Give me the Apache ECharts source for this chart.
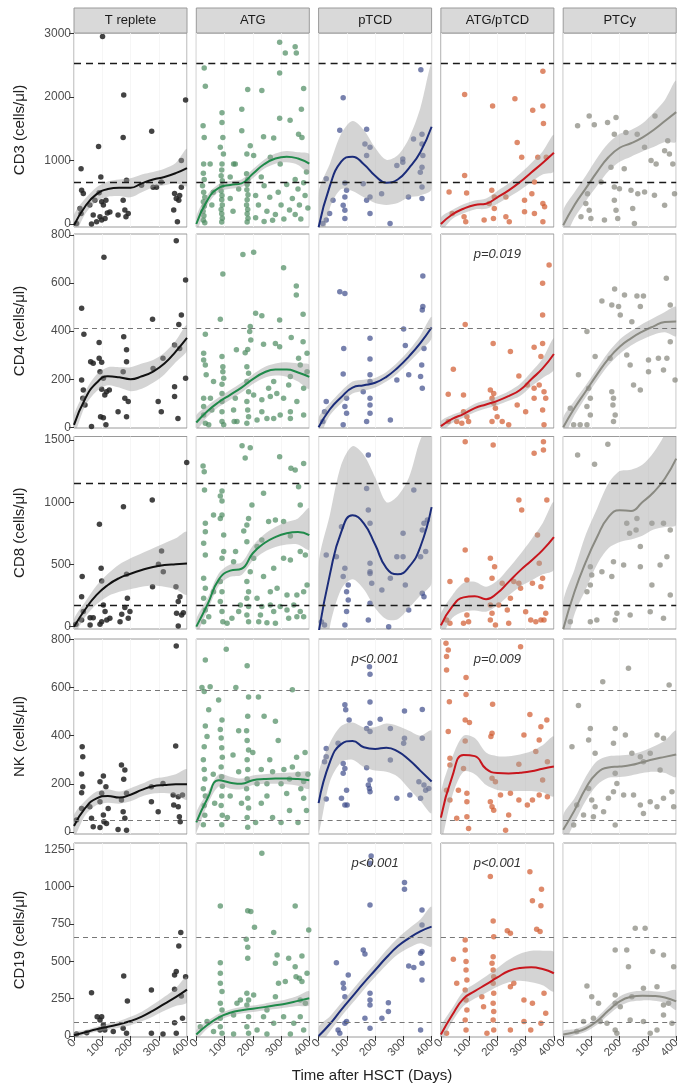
<!DOCTYPE html>
<html><head><meta charset="utf-8">
<script src="https://cdn.jsdelivr.net/npm/echarts@6/dist/echarts.min.js"></script>
<style>html,body{margin:0;padding:0;background:#fff}#c{width:684px;height:1089px}</style>
</head><body><div id="c"></div><script>
// ---------- labels ----------
const groups = ['T replete','ATG','pTCD','ATG/pTCD','PTCy'];
const markers = ['CD3','CD4','CD8','NK','CD19'];
const xTicks = [0,100,200,300,400];
const yTicks = [[0,1000,2000,3000],[0,200,400,600,800],[0,500,1000,1500],[0,200,400,600,800],[0,250,500,750,1000,1250]];
const yMin = [-47,-3,-19,-8,-7];
const yMax = [3005,804,1528,801,1292];
const refLines = [[650,2530],[410],[175,1150],[50,590],[90,660]];
const xs = [0,40,80,120,160,200,240,280,320,360,400];
const pLabels = [{row:1,col:3,text:'p=0.019'},{row:3,col:2,text:'p<0.001'},{row:3,col:3,text:'p=0.009'},{row:4,col:2,text:'p<0.001'},{row:4,col:3,text:'p<0.001'}];

// ---------- CD3 ----------
const cd3_trep = [[101,2950],[25,870],[176,2030],[87,1220],[174,1360],[275,1460],[395,1950],[380,1000],[95,740],[27,530],[33,480],[21,245],[25,165],[56,300],[74,375],[89,490],[98,350],[104,300],[113,375],[118,175],[92,115],[98,62],[110,88],[127,190],[156,140],[174,375],[180,220],[186,690],[192,165],[184,115],[239,610],[280,580],[292,580],[309,660],[356,480],[362,400],[374,450],[380,580],[371,375],[353,220],[366,36],[62,0],[9,10],[68,140],[80,36]];
const cd3_atg = [[28,2454],[32,2168],[24,1544],[28,1362],[26,946],[49,946],[91,1752],[91,1596],[94,1362],[85,1206],[96,1102],[91,946],[132,946],[120,738],[295,2860],[350,2790],[354,2690],[315,2690],[295,2376],[182,2116],[232,2100],[380,2130],[161,1804],[372,1804],[295,1664],[332,1633],[161,1466],[238,1373],[274,1352],[362,1414],[374,1362],[191,1232],[179,1102],[203,1076],[138,946],[262,1050],[297,946],[25,800],[28,700],[22,600],[26,500],[30,420],[25,350],[28,280],[24,200],[27,130],[25,60],[30,20],[90,850],[88,760],[92,680],[90,600],[88,520],[91,450],[90,380],[92,300],[88,230],[90,160],[92,90],[90,30],[178,790],[182,700],[180,620],[179,540],[183,460],[180,380],[178,300],[182,230],[180,160],[183,90],[180,30],[60,500],[55,300],[120,400],[130,200],[150,550],[210,450],[220,300],[240,600],[250,200],[260,420],[280,150],[290,500],[300,300],[310,80],[320,620],[330,220],[340,400],[350,150],[360,550],[365,300],[370,80],[380,650],[385,450],[395,250],[270,60],[240,40],[210,100],[230,740],[350,700],[390,820]];
const cd3_ptcd = [[87,1986],[75,1477],[170,1492],[164,1258],[182,1206],[170,1076],[298,1024],[298,972],[336,1336],[366,1414],[366,1258],[369,1076],[366,894],[360,816],[277,920],[362,2428],[27,712],[93,645],[99,530],[93,426],[87,296],[93,218],[93,88],[51,374],[158,634],[170,374],[182,426],[182,166],[223,478],[253,10],[318,426],[366,582],[366,400],[27,62],[15,10],[39,166]];
const cd3_atgptcd = [[84,2038],[262,1971],[183,1856],[361,2402],[325,1789],[361,1856],[363,1581],[270,1284],[286,1050],[84,764],[29,504],[91,489],[180,530],[189,426],[171,322],[230,426],[322,478],[331,660],[361,322],[367,270],[296,192],[331,166],[361,36],[230,114],[242,36],[40,166],[82,114],[88,36],[189,244],[186,88],[153,62],[343,1050],[373,1050],[296,374]];
const cd3_ptcy = [[51,1544],[92,1700],[110,1560],[157,1596],[187,1674],[181,1414],[222,1440],[262,1414],[325,1700],[370,1310],[376,1102],[359,1154],[388,946],[288,1206],[329,946],[311,998],[169,894],[216,868],[134,660],[181,582],[199,556],[240,530],[264,478],[288,504],[323,452],[359,296],[394,478],[86,478],[80,322],[92,218],[98,88],[181,374],[187,218],[193,88],[146,62],[246,244],[252,10],[63,114]];
const cd3_trep_fit = [-20,280,470,550,570,570,640,700,740,800,880];
const cd3_trep_lo  = [-180,160,360,430,440,420,500,580,610,640,600];
const cd3_trep_hi  = [140,400,580,670,700,720,780,820,870,960,1180];
const cd3_atg_fit = [0,380,570,615,640,790,940,1030,1060,1030,950];
const cd3_atg_lo  = [-120,300,510,555,580,720,870,950,970,930,800];
const cd3_atg_hi  = [120,460,630,675,700,860,1010,1110,1150,1130,1100];
const cd3_ptcd_fit = [-50,600,980,1060,940,760,650,700,880,1130,1530];
const cd3_ptcd_lo  = [-600,250,550,520,420,330,300,330,420,450,550];
const cd3_ptcd_hi  = [500,950,1420,1620,1480,1200,1010,1080,1350,1820,2500];
const cd3_atgptcd_fit = [0,150,240,300,320,420,530,660,810,960,1120];
const cd3_atgptcd_lo  = [-100,80,170,230,240,320,420,530,660,780,830];
const cd3_atgptcd_hi  = [100,220,310,370,400,520,640,790,960,1140,1400];
const cd3_ptcy_fit = [-20,300,560,820,1050,1200,1270,1360,1480,1620,1760];
const cd3_ptcy_lo  = [-250,100,360,600,830,980,1060,1140,1210,1290,1300];
const cd3_ptcy_hi  = [210,500,760,1040,1270,1420,1480,1580,1750,1950,2250];

// ---------- CD4 ----------
const cd4_trep = [[106,707],[362,776],[27,495],[35,387],[395,613],[278,449],[380,467],[371,428],[89,353],[176,377],[186,322],[59,273],[68,266],[89,287],[98,270],[186,273],[174,231],[27,197],[33,155],[31,121],[39,93],[92,231],[104,204],[98,158],[115,148],[109,134],[125,155],[180,121],[192,107],[156,65],[186,44],[94,44],[104,40],[113,10],[62,3],[298,107],[309,65],[280,245],[315,287],[356,169],[356,128],[368,37],[374,328],[356,342],[395,204]];
const cd4_atg = [[165,719],[203,728],[94,638],[309,664],[354,588],[354,550],[210,474],[232,464],[85,449],[295,446],[378,470],[191,419],[189,398],[32,387],[193,363],[336,373],[182,324],[173,310],[238,345],[280,349],[295,335],[142,322],[378,356],[26,308],[26,280],[32,259],[35,218],[91,294],[94,252],[94,231],[97,204],[91,179],[91,141],[91,107],[91,65],[91,24],[97,10],[26,121],[26,86],[26,51],[32,17],[44,10],[179,252],[185,225],[179,190],[185,148],[179,107],[182,72],[185,44],[179,17],[132,72],[134,24],[138,121],[203,134],[232,114],[256,162],[274,190],[262,128],[285,141],[309,121],[327,176],[333,211],[362,287],[368,259],[392,308],[392,231],[380,162],[356,107],[333,65],[250,37],[274,37],[297,51],[333,37],[380,51],[232,65],[215,30],[144,24],[61,190],[55,72],[50,121]];
const cd4_ptcd = [[75,564],[93,557],[369,629],[369,502],[367,488],[301,409],[182,370],[89,328],[182,284],[307,340],[87,222],[182,218],[182,190],[158,148],[182,121],[182,93],[182,58],[99,121],[93,86],[99,58],[27,107],[21,65],[15,24],[87,10],[170,24],[254,30],[277,197],[319,218],[361,211],[367,162],[373,328],[365,259]];
const cd4_atgptcd = [[383,675],[360,599],[360,467],[86,428],[185,349],[246,315],[330,333],[360,349],[354,294],[44,241],[276,213],[306,176],[330,162],[348,176],[365,148],[371,121],[360,72],[330,121],[300,65],[270,93],[26,137],[80,134],[175,155],[187,141],[181,121],[187,100],[193,79],[199,44],[181,24],[217,24],[240,10],[80,65],[92,44],[56,24],[74,17],[98,24],[26,24],[365,10]];
const cd4_ptcy = [[365,620],[182,575],[217,550],[261,546],[284,546],[137,525],[172,509],[196,502],[202,467],[273,502],[379,509],[243,439],[84,398],[113,294],[166,287],[225,301],[237,259],[302,280],[302,231],[337,287],[355,238],[367,287],[379,356],[396,197],[54,218],[90,162],[96,121],[84,86],[96,51],[172,148],[178,121],[176,93],[184,51],[178,24],[249,176],[273,155],[37,10],[60,10],[84,10],[25,79]];
const cd4_trep_fit = [10,120,185,212,208,200,212,232,265,315,372];
const cd4_trep_lo  = [-30,90,150,175,165,150,160,185,220,270,320];
const cd4_trep_hi  = [50,150,220,250,250,250,265,280,310,360,425];
const cd4_atg_fit = [20,68,105,135,165,200,228,240,240,228,210];
const cd4_atg_lo  = [-10,45,85,115,145,180,205,215,210,190,160];
const cd4_atg_hi  = [50,90,125,155,185,220,250,265,270,265,260];
const cd4_ptcd_fit = [0,75,125,165,175,185,210,248,295,350,415];
const cd4_ptcd_lo  = [-40,50,100,140,152,165,190,225,270,318,370];
const cd4_ptcd_hi  = [40,100,150,190,198,205,230,270,320,382,460];
const cd4_atgptcd_fit = [5,35,55,80,95,110,130,155,200,245,305];
const cd4_atgptcd_lo  = [-15,18,40,62,78,92,110,130,170,205,240];
const cd4_atgptcd_hi  = [25,52,70,98,112,128,150,180,230,285,370];
const cd4_ptcy_fit = [0,80,150,220,285,335,370,398,420,438,440];
const cd4_ptcy_lo  = [-40,50,125,195,258,305,340,365,385,395,380];
const cd4_ptcy_hi  = [40,110,175,245,312,365,400,430,455,480,500];

// ---------- CD8 ----------
const cd8_trep = [[90,822],[175,964],[277,1018],[399,1320],[29,402],[96,469],[98,367],[27,241],[186,420],[310,608],[299,501],[316,442],[278,321],[189,228],[361,321],[375,241],[369,201],[363,107],[381,94],[387,112],[369,5],[33,121],[27,54],[57,72],[68,72],[104,174],[110,121],[98,40],[92,19],[116,54],[127,67],[180,153],[169,99],[198,121],[192,67],[163,40],[57,13],[7,19]];
const cd8_atg = [[162,1454],[191,1438],[24,1291],[28,1245],[173,1355],[295,1366],[335,1272],[350,1259],[380,1312],[362,1125],[368,977],[91,1090],[85,1050],[91,1010],[29,1098],[61,897],[91,897],[85,870],[185,870],[197,977],[238,1071],[32,830],[32,763],[26,670],[32,576],[97,736],[168,769],[179,817],[280,857],[309,844],[333,728],[97,603],[91,549],[132,522],[139,603],[179,683],[215,643],[232,696],[256,844],[203,549],[191,442],[238,402],[274,469],[309,549],[333,536],[368,603],[386,576],[85,362],[91,281],[85,201],[91,121],[94,40],[26,388],[32,308],[26,228],[32,134],[26,40],[44,80],[61,281],[179,362],[185,281],[179,228],[185,161],[179,94],[185,40],[156,174],[150,121],[215,228],[232,161],[262,281],[286,308],[262,174],[274,121],[297,161],[321,134],[345,174],[368,121],[380,281],[392,335],[356,254],[321,254],[327,67],[356,80],[380,80],[221,40],[250,32],[280,27],[227,94],[126,67],[109,27]];
const cd8_ptcd = [[176,1380],[170,1111],[176,937],[182,830],[81,803],[337,1098],[373,830],[367,776],[385,857],[299,750],[277,562],[299,562],[361,562],[379,603],[27,576],[63,562],[93,469],[87,402],[105,335],[99,281],[182,509],[182,442],[182,428],[188,348],[224,295],[254,388],[307,335],[367,268],[373,241],[319,134],[105,214],[99,121],[182,188],[176,54],[248,0],[10,40],[21,13],[93,13]];
const cd8_atgptcd = [[86,1486],[185,1460],[363,1486],[363,1419],[330,1393],[375,1018],[276,1018],[286,937],[86,616],[175,549],[190,482],[342,736],[348,509],[360,388],[354,321],[324,348],[282,308],[276,348],[258,362],[92,375],[32,362],[181,388],[217,348],[246,228],[235,134],[205,174],[175,174],[181,107],[175,54],[92,94],[98,40],[80,27],[20,54],[32,27],[300,120],[318,54],[336,40],[354,54],[371,107],[365,54],[240,27],[193,13]];
const cd8_ptcy = [[51,1380],[111,1304],[158,1465],[225,830],[261,870],[235,750],[258,776],[314,830],[355,830],[379,776],[367,562],[273,643],[273,482],[178,522],[214,495],[137,442],[172,402],[343,495],[96,482],[101,415],[96,335],[84,281],[314,335],[379,254],[308,120],[355,67],[237,94],[190,107],[184,54],[96,40],[119,54],[25,40]];
const cd8_trep_fit = [0,140,255,335,390,425,455,480,495,502,508];
const cd8_trep_lo  = [-60,80,180,245,280,300,320,330,320,300,260];
const cd8_trep_hi  = [60,200,330,425,500,550,590,630,670,710,760];
const cd8_atg_fit = [0,180,380,450,465,590,670,720,750,760,735];
const cd8_atg_lo  = [-60,130,330,400,415,530,600,640,660,660,620];
const cd8_atg_hi  = [60,230,430,500,515,650,740,800,840,870,950];
const cd8_ptcd_fit = [-50,420,760,895,830,660,470,420,480,640,960];
const cd8_ptcd_lo  = [-600,0,300,380,300,150,60,60,150,250,350];
const cd8_ptcd_hi  = [500,900,1300,1450,1380,1200,1000,1050,1200,1500,1650];
const cd8_atgptcd_fit = [10,160,235,245,220,270,360,450,530,615,720];
const cd8_atgptcd_lo  = [-80,70,120,130,120,170,250,320,370,420,460];
const cd8_atgptcd_hi  = [100,250,350,360,320,370,470,580,700,830,1000];
const cd8_ptcy_fit = [-20,280,520,720,880,935,930,1000,1080,1190,1350];
const cd8_ptcy_lo  = [-250,100,300,500,630,680,700,730,780,800,820];
const cd8_ptcy_hi  = [200,460,740,950,1150,1250,1260,1300,1400,1550,1800];

// ---------- NK ----------
const nk_trep = [[362,772],[360,357],[29,354],[31,313],[27,241],[31,188],[27,163],[27,98],[56,105],[62,57],[92,209],[104,233],[113,188],[98,161],[92,126],[104,71],[106,43],[92,19],[115,36],[168,278],[180,257],[176,219],[186,161],[168,133],[174,84],[180,57],[186,8],[156,11],[121,98],[274,188],[315,202],[298,84],[274,126],[351,154],[369,147],[384,154],[353,112],[369,105],[373,64],[376,43],[68,22],[9,50]];
const nk_atg = [[32,714],[106,758],[28,583],[49,603],[79,548],[44,507],[32,440],[38,396],[28,354],[85,426],[91,465],[20,600],[25,300],[28,260],[30,220],[25,180],[32,150],[28,110],[30,70],[25,30],[88,390],[90,350],[92,310],[88,270],[90,230],[92,190],[90,150],[88,110],[92,70],[90,30],[180,690],[185,560],[182,480],[178,420],[180,380],[185,340],[180,300],[182,260],[180,220],[178,180],[182,140],[185,100],[180,60],[182,20],[140,600],[130,320],[150,250],[160,120],[220,560],[240,480],[260,300],[270,250],[290,380],[300,200],[320,160],[330,90],[340,270],[355,310],[360,240],[370,180],[380,140],[385,330],[390,90],[395,240],[250,150],[270,60],[300,40],[230,120],[215,200],[340,590],[280,460],[60,240],[65,120],[120,150],[110,60],[210,40],[360,40],[250,200],[310,260],[330,220],[380,210],[230,260],[150,420],[200,330]];
const nk_ptcd = [[182,655],[180,686],[96,507],[93,528],[182,540],[108,465],[218,468],[182,451],[182,417],[170,430],[254,430],[304,502],[367,509],[367,389],[304,389],[301,368],[27,347],[27,313],[21,292],[69,368],[87,285],[93,264],[87,244],[170,267],[254,299],[182,216],[176,195],[180,181],[182,167],[99,174],[81,140],[93,112],[101,112],[27,137],[277,140],[323,154],[355,209],[373,195],[379,174],[361,140],[390,181]];
const nk_atgptcd = [[18,783],[26,755],[20,728],[282,769],[20,672],[89,641],[89,571],[30,541],[183,530],[315,488],[86,465],[101,455],[375,465],[354,437],[181,410],[177,396],[26,417],[294,403],[86,378],[348,382],[336,334],[32,306],[32,278],[80,264],[276,281],[181,223],[193,209],[360,216],[377,292],[20,174],[62,174],[92,161],[32,133],[92,126],[175,126],[181,105],[187,91],[211,154],[246,161],[276,133],[306,112],[324,133],[348,154],[377,147],[240,71],[92,64],[56,57],[98,15],[229,8]];
const nk_ptcy = [[231,680],[140,624],[375,610],[54,525],[96,430],[90,382],[184,430],[220,403],[178,368],[31,354],[113,327],[332,403],[355,389],[243,327],[273,313],[308,327],[284,292],[343,257],[184,244],[190,202],[178,167],[90,181],[101,133],[113,105],[160,140],[214,154],[249,154],[273,112],[308,126],[332,105],[355,140],[385,167],[391,105],[48,112],[72,71],[107,64],[37,29],[143,84],[184,29],[284,77]];
const nk_trep_fit = [25,100,140,150,143,155,175,190,195,198,198];
const nk_trep_lo  = [-20,70,112,122,118,128,148,160,162,155,135];
const nk_trep_hi  = [70,130,168,178,168,182,200,220,228,240,260];
const nk_atg_fit = [40,140,215,205,200,215,220,222,222,220,215];
const nk_atg_lo  = [0,115,190,180,178,195,200,200,198,192,180];
const nk_atg_hi  = [80,165,240,230,222,235,240,244,246,248,250];
const nk_ptcd_fit = [120,290,365,378,352,345,350,335,300,255,210];
const nk_ptcd_lo  = [0,210,290,300,270,255,250,230,180,130,80];
const nk_ptcd_hi  = [240,370,440,455,435,435,450,440,420,400,420];
const nk_atgptcd_fit = [60,230,320,315,262,245,243,246,252,263,272];
const nk_atgptcd_lo  = [-40,150,250,240,195,175,170,170,170,165,150];
const nk_atgptcd_hi  = [160,310,400,390,330,315,315,322,335,360,395];
const nk_ptcy_fit = [10,90,182,245,268,272,278,290,302,312,322];
const nk_ptcy_lo  = [-50,40,130,195,225,228,235,245,250,245,230];
const nk_ptcy_hi  = [70,140,230,295,315,318,322,335,355,380,420];

// ---------- CD19 ----------
const cd19_trep = [[378,692],[371,603],[362,431],[356,408],[395,397],[356,312],[274,308],[176,402],[189,234],[62,290],[380,268],[384,118],[356,89],[362,18],[82,129],[92,107],[98,129],[104,74],[92,40],[109,40],[139,29],[174,51],[186,18],[274,18],[315,13],[9,13],[45,22]];
const cd19_atg = [[85,870],[182,839],[193,833],[232,1223],[350,870],[206,728],[274,692],[177,647],[182,594],[398,710],[85,491],[182,520],[286,542],[280,487],[374,536],[350,464],[327,520],[353,397],[365,386],[374,364],[392,420],[291,353],[315,364],[85,420],[85,353],[91,297],[85,219],[91,174],[85,118],[85,62],[91,18],[179,286],[185,241],[179,208],[185,129],[179,62],[185,18],[14,62],[38,96],[61,29],[132,141],[144,219],[156,241],[238,129],[250,174],[274,85],[309,129],[345,85],[368,129],[380,40],[333,13],[250,13],[215,40],[132,13],[368,241],[386,219],[280,263],[203,275]];
const cd19_ptcd = [[186,1205],[182,1156],[304,1027],[304,982],[182,877],[366,844],[366,743],[361,554],[366,565],[319,469],[337,458],[366,487],[366,375],[158,576],[164,549],[63,491],[105,408],[87,353],[89,319],[93,263],[182,286],[182,241],[182,208],[247,223],[247,163],[224,118],[164,118],[93,85],[99,96],[69,40],[75,18],[182,51],[361,40]];
const cd19_atgptcd = [[175,1067],[315,1100],[356,982],[324,906],[354,871],[185,770],[235,705],[246,687],[351,699],[339,714],[86,643],[86,576],[89,498],[44,513],[187,665],[185,531],[181,487],[185,442],[187,397],[185,353],[187,286],[185,219],[187,163],[185,107],[187,40],[89,442],[92,375],[86,308],[89,241],[92,174],[86,107],[89,40],[56,353],[20,18],[145,263],[151,196],[246,330],[258,353],[294,241],[324,219],[365,286],[371,152],[294,96],[354,85],[318,40],[246,40],[163,18]];
const cd19_ptcy = [[255,721],[290,721],[184,576],[225,576],[317,565],[355,542],[231,464],[391,464],[84,335],[184,219],[101,263],[125,219],[184,275],[243,263],[284,319],[332,330],[355,208],[373,219],[202,196],[72,96],[107,118],[131,96],[155,85],[184,40],[190,18],[237,107],[284,96],[332,40],[385,85],[355,141],[48,29],[308,18]];
const cd19_trep_fit = [5,25,45,62,78,100,130,170,215,260,310];
const cd19_trep_lo  = [-15,10,28,42,55,72,98,130,168,200,225];
const cd19_trep_hi  = [25,40,62,82,100,128,162,210,262,320,395];
const cd19_atg_fit = [10,75,125,155,172,182,193,205,218,235,252];
const cd19_atg_lo  = [-20,50,102,133,150,160,170,180,190,200,205];
const cd19_atg_hi  = [40,100,148,177,194,204,216,230,246,270,300];
const cd19_ptcd_fit = [0,80,175,265,355,440,525,600,655,700,732];
const cd19_ptcd_lo  = [-60,30,130,220,310,395,475,545,590,620,600];
const cd19_ptcd_hi  = [60,130,220,310,400,485,575,655,720,780,865];
const cd19_atgptcd_fit = [10,140,250,300,345,392,435,455,460,448,420];
const cd19_atgptcd_lo  = [-40,95,200,250,290,330,360,370,360,340,300];
const cd19_atgptcd_hi  = [60,185,300,350,400,455,510,550,570,570,560];
const cd19_ptcy_fit = [10,25,50,100,170,232,262,270,268,258,232];
const cd19_ptcy_lo  = [-15,5,28,75,140,200,230,238,236,222,175];
const cd19_ptcy_hi  = [35,45,72,125,200,264,294,302,300,295,305];

// ---------- assemble ----------
const points = [
  [cd3_trep, cd3_atg, cd3_ptcd, cd3_atgptcd, cd3_ptcy],
  [cd4_trep, cd4_atg, cd4_ptcd, cd4_atgptcd, cd4_ptcy],
  [cd8_trep, cd8_atg, cd8_ptcd, cd8_atgptcd, cd8_ptcy],
  [nk_trep, nk_atg, nk_ptcd, nk_atgptcd, nk_ptcy],
  [cd19_trep, cd19_atg, cd19_ptcd, cd19_atgptcd, cd19_ptcy]
];
const fits = [
  [[cd3_trep_lo,cd3_trep_fit,cd3_trep_hi],[cd3_atg_lo,cd3_atg_fit,cd3_atg_hi],[cd3_ptcd_lo,cd3_ptcd_fit,cd3_ptcd_hi],[cd3_atgptcd_lo,cd3_atgptcd_fit,cd3_atgptcd_hi],[cd3_ptcy_lo,cd3_ptcy_fit,cd3_ptcy_hi]],
  [[cd4_trep_lo,cd4_trep_fit,cd4_trep_hi],[cd4_atg_lo,cd4_atg_fit,cd4_atg_hi],[cd4_ptcd_lo,cd4_ptcd_fit,cd4_ptcd_hi],[cd4_atgptcd_lo,cd4_atgptcd_fit,cd4_atgptcd_hi],[cd4_ptcy_lo,cd4_ptcy_fit,cd4_ptcy_hi]],
  [[cd8_trep_lo,cd8_trep_fit,cd8_trep_hi],[cd8_atg_lo,cd8_atg_fit,cd8_atg_hi],[cd8_ptcd_lo,cd8_ptcd_fit,cd8_ptcd_hi],[cd8_atgptcd_lo,cd8_atgptcd_fit,cd8_atgptcd_hi],[cd8_ptcy_lo,cd8_ptcy_fit,cd8_ptcy_hi]],
  [[nk_trep_lo,nk_trep_fit,nk_trep_hi],[nk_atg_lo,nk_atg_fit,nk_atg_hi],[nk_ptcd_lo,nk_ptcd_fit,nk_ptcd_hi],[nk_atgptcd_lo,nk_atgptcd_fit,nk_atgptcd_hi],[nk_ptcy_lo,nk_ptcy_fit,nk_ptcy_hi]],
  [[cd19_trep_lo,cd19_trep_fit,cd19_trep_hi],[cd19_atg_lo,cd19_atg_fit,cd19_atg_hi],[cd19_ptcd_lo,cd19_ptcd_fit,cd19_ptcd_hi],[cd19_atgptcd_lo,cd19_atgptcd_fit,cd19_atgptcd_hi],[cd19_ptcy_lo,cd19_ptcy_fit,cd19_ptcy_hi]]
];

// ---------- styling / layout ----------
const FONT = 'Liberation Sans, Arial, Helvetica, sans-serif';
const lineColors = ['#111111','#1f8a4a','#1b2c7a','#c8161d','#8a8a82'];
const pointColors = ['#222222','#4c8a60','#3d4b8a','#d0582c','#85857a'];
const pointOpacity = [0.85,0.7,0.7,0.7,0.7];
const panelLeft = [74,196.3,318.6,440.9,563.2];
const panelW = 113;
const panelTop = [33,234,436.5,639,843];
const panelH = [194,194,192.5,195,194];
const refStyle = [
  {color:'#1a1a1a', width:1.3, type:[7,5]},
  {color:'#777777', width:1, type:[5,4]},
  {color:'#1a1a1a', width:1.3, type:[7,5]},
  {color:'#777777', width:1, type:[5,4]},
  {color:'#777777', width:1, type:[5,4]}
];

const grids = [], xAxes = [], yAxes = [], series = [], graphics = [];
for (let r = 0; r < 5; r++) {
  for (let c = 0; c < 5; c++) {
    const idx = r*5 + c;
    grids.push({left: panelLeft[c], top: panelTop[r], width: panelW, height: panelH[r],
      show: true, borderColor: '#9a9a9a', borderWidth: 1, backgroundColor: '#ffffff', containLabel: false});
    const bottom = (r === 4);
    xAxes.push({gridIndex: idx, type: 'value', min: 0, max: 400, interval: 100,
      axisLine: {show: false},
      axisTick: {show: bottom, length: 5, lineStyle: {color: '#333'}},
      axisLabel: {show: bottom, rotate: 45, margin: 4, fontSize: 11.5, color: '#4d4d4d', fontFamily: FONT,
        customValues: xTicks, formatter: v => String(v)},
      splitLine: {show: true, lineStyle: {color: '#f4f4f4', width: 0.8}}
    });
    yAxes.push({gridIndex: idx, type: 'value', min: yMin[r], max: yMax[r],
      axisLine: {show: false},
      axisTick: {show: c === 0, length: 5, customValues: yTicks[r], lineStyle: {color: '#333'}},
      axisLabel: {show: c === 0, customValues: yTicks[r], margin: 3, fontSize: 12, color: '#4d4d4d', fontFamily: FONT,
        formatter: v => String(v)},
      splitLine: {show: false},
      name: c === 0 ? markers[r] + ' (cells/\u03bcl)' : '',
      nameLocation: 'middle', nameGap: 47, nameRotate: 90,
      nameTextStyle: {fontSize: 15, color: '#222', fontFamily: FONT}
    });
    const [lo, fit, hi] = fits[r][c];
    series.push({
      type: 'scatter', xAxisIndex: idx, yAxisIndex: idx, z: 2,
      data: points[r][c], symbolSize: 5.5,
      itemStyle: {color: pointColors[c], opacity: pointOpacity[c]},
      markLine: {silent: true, symbol: ['none','none'], label: {show: false}, animation: false,
        lineStyle: refStyle[r], data: refLines[r].map(v => ({yAxis: v}))}
    });
    // confidence band drawn as a smoothed polygon through the library's coordinate system
    series.push({
      type: 'custom', xAxisIndex: idx, yAxisIndex: idx, z: 3, silent: true, clip: true,
      data: xs.map((x, k) => [x, lo[k], hi[k]]),
      encode: {x: 0, y: [1, 2]},
      renderItem: (params, api) => {
        if (params.dataIndex !== 0) return null;
        const up = xs.map((x, k) => api.coord([x, hi[k]]));
        const dn = xs.map((x, k) => api.coord([x, lo[k]])).reverse();
        const cs = params.coordSys;
        return {
          type: 'polygon',
          shape: {points: up.concat(dn), smooth: 0.3},
          style: {fill: 'rgba(160,160,160,0.45)', stroke: null},
          clipPath: {type: 'rect', shape: {x: cs.x, y: cs.y, width: cs.width, height: cs.height}}
        };
      }
    });
    series.push({
      type: 'line', xAxisIndex: idx, yAxisIndex: idx, z: 4,
      data: xs.map((x, k) => [x, fit[k]]), symbol: 'none', smooth: true,
      lineStyle: {color: lineColors[c], width: 2}
    });
  }
}
// strips
for (let c = 0; c < 5; c++) {
  graphics.push({type: 'rect', shape: {x: panelLeft[c], y: 8, width: panelW, height: 25},
    style: {fill: '#d9d9d9', stroke: '#9a9a9a', lineWidth: 1}, silent: true});
  graphics.push({type: 'text', x: panelLeft[c] + panelW/2, y: 20.5, silent: true,
    style: {text: groups[c], fill: '#1a1a1a', font: '13px ' + FONT, align: 'center', verticalAlign: 'middle',
      textAlign: 'center', textVerticalAlign: 'middle'}});
}
// p-values
pLabels.forEach(p => {
  graphics.push({type: 'text', x: panelLeft[p.col] + panelW/2, y: panelTop[p.row] + 20, silent: true, z: 10,
    style: {text: p.text, fill: '#333', font: 'italic 13px ' + FONT, align: 'center', verticalAlign: 'middle',
      textAlign: 'center', textVerticalAlign: 'middle'}});
});
// x title
graphics.push({type: 'text', x: 372, y: 1076, silent: true,
  style: {text: 'Time after HSCT (Days)', fill: '#222', font: '15px ' + FONT, align: 'center', verticalAlign: 'middle',
    textAlign: 'center', textVerticalAlign: 'middle'}});

const chart = echarts.init(document.getElementById('c'), null, {renderer: 'canvas'});
chart.setOption({
  animation: false,
  backgroundColor: '#ffffff',
  grid: grids, xAxis: xAxes, yAxis: yAxes, series: series, graphic: graphics
});
</script></body></html>
